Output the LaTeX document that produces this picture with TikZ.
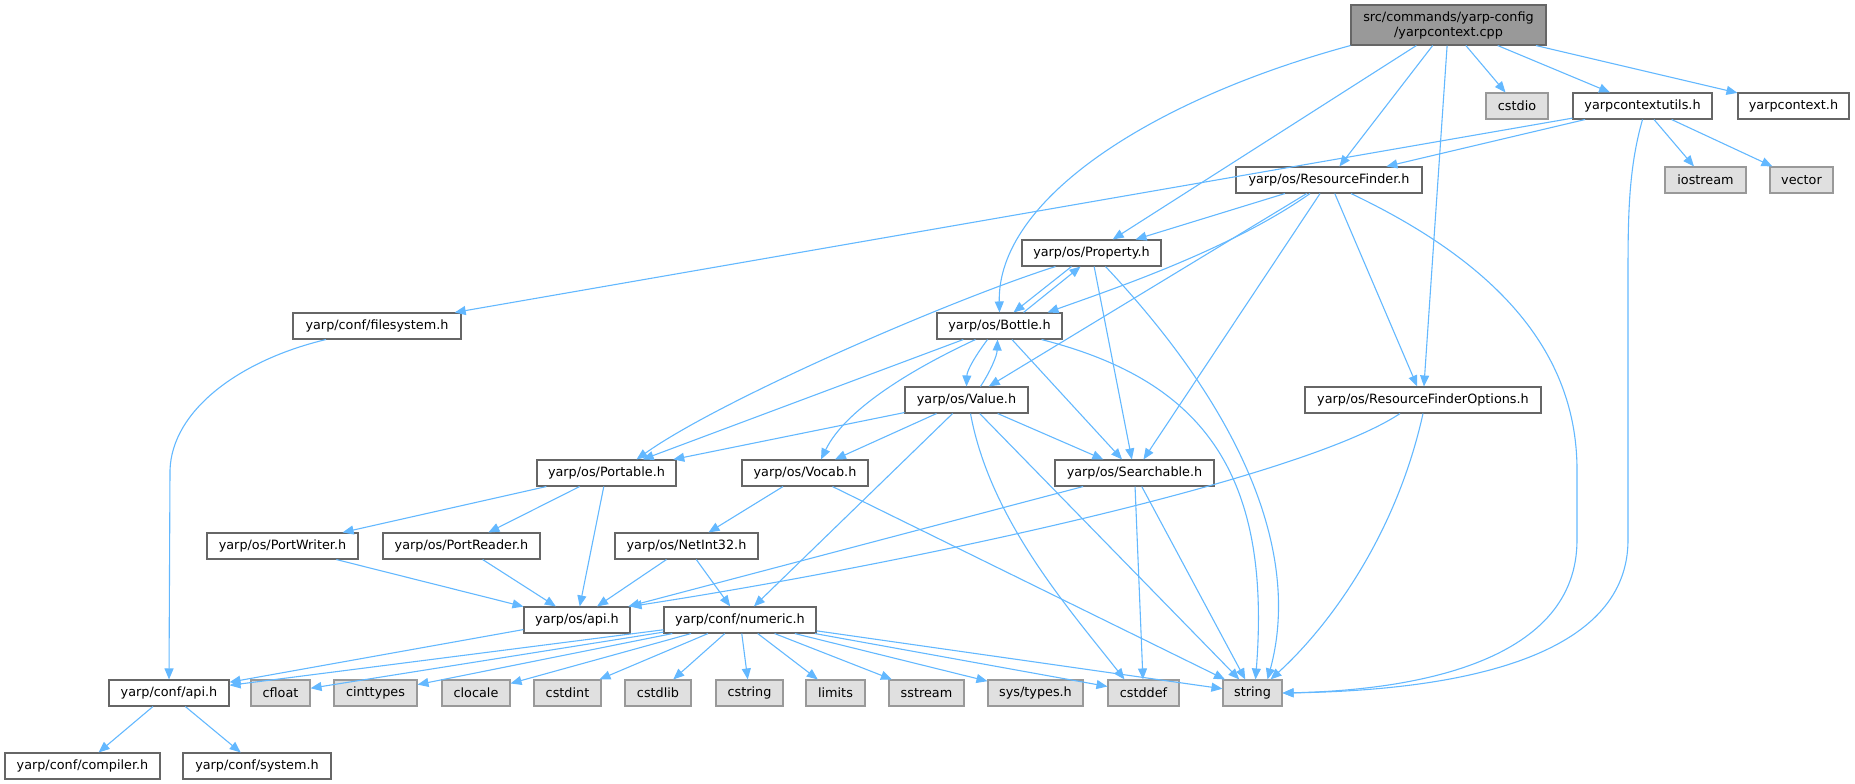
\documentclass[tikz,border=0pt]{standalone}
\usepackage{fontspec}
\setmainfont{DejaVu Sans}
\usetikzlibrary{arrows.meta}
\definecolor{bordo}{HTML}{666666}
\definecolor{grigio}{HTML}{999999}
\definecolor{esterno}{HTML}{E0E0E0}
\definecolor{freccia}{HTML}{63B8FF}
\begin{document}
\begin{tikzpicture}[x=1pt,y=-1pt,font=\fontsize{12.8}{15}\selectfont,
  file/.style={draw=bordo,fill=white,line width=1.1pt,minimum height=26pt,inner sep=0pt},
  ext/.style={file,draw=grigio,fill=esterno},
  radice/.style={file,fill=grigio,minimum height=40pt,align=center},
  dip/.style={draw=freccia,line width=1.1pt,-{Triangle[length=11pt,width=9pt]}}]
  \useasboundingbox (0,0) rectangle (1855,784);
  % file principale e primo livello
  \node[radice,minimum width=195] (cpp) at (1448.5,25) {src/commands/yarp-config\\/yarpcontext.cpp};
  \node[ext,minimum width=62] (cstdio) at (1517,106) {cstdio};
  \node[file,minimum width=139] (utils) at (1642.5,106) {yarpcontextutils.h};
  \node[file,minimum width=111] (ctxh) at (1793.5,106) {yarpcontext.h};
  \node[file,minimum width=186] (rf) at (1329,180) {yarp/os/ResourceFinder.h};
  \node[ext,minimum width=81] (iostream) at (1705.5,180) {iostream};
  \node[ext,minimum width=63] (vector) at (1801.5,180) {vector};
  % livelli intermedi
  \node[file,minimum width=139] (prop) at (1091.5,253) {yarp/os/Property.h};
  \node[file,minimum width=168] (fs) at (377,326) {yarp/conf/filesystem.h};
  \node[file,minimum width=125] (bottle) at (999.5,326) {yarp/os/Bottle.h};
  \node[file,minimum width=123] (value) at (966.5,400) {yarp/os/Value.h};
  \node[file,minimum width=236] (rfo) at (1423,400) {yarp/os/ResourceFinderOptions.h};
  \node[file,minimum width=139] (portable) at (606.5,473) {yarp/os/Portable.h};
  \node[file,minimum width=126] (vocab) at (805,473) {yarp/os/Vocab.h};
  \node[file,minimum width=159] (search) at (1134.5,473) {yarp/os/Searchable.h};
  \node[file,minimum width=151] (pwriter) at (282.5,546) {yarp/os/PortWriter.h};
  \node[file,minimum width=157] (preader) at (461.5,546) {yarp/os/PortReader.h};
  \node[file,minimum width=143] (netint) at (686.5,546) {yarp/os/NetInt32.h};
  \node[file,minimum width=106] (osapi) at (577,620) {yarp/os/api.h};
  \node[file,minimum width=152] (numeric) at (740,620) {yarp/conf/numeric.h};
  % ultima riga: intestazioni di sistema
  \node[file,minimum width=120] (confapi) at (169,693) {yarp/conf/api.h};
  \node[ext,minimum width=59] (cfloat) at (280.5,693) {cfloat};
  \node[ext,minimum width=83] (cinttypes) at (375.5,693) {cinttypes};
  \node[ext,minimum width=68] (clocale) at (476,693) {clocale};
  \node[ext,minimum width=67] (cstdint) at (567.5,693) {cstdint};
  \node[ext,minimum width=66] (cstdlib) at (658,693) {cstdlib};
  \node[ext,minimum width=67] (cstring) at (749.5,693) {cstring};
  \node[ext,minimum width=59] (limits) at (835.5,693) {limits};
  \node[ext,minimum width=75] (sstream) at (926.5,693) {sstream};
  \node[ext,minimum width=95] (systypes) at (1035.5,693) {sys/types.h};
  \node[ext,minimum width=71] (cstddef) at (1143.5,693) {cstddef};
  \node[ext,minimum width=59] (string) at (1252.5,693) {string};
  \node[file,minimum width=155] (compiler) at (82.5,766) {yarp/conf/compiler.h};
  \node[file,minimum width=148] (system) at (257,766) {yarp/conf/system.h};

  \draw[dip] (cpp.south west) .. controls (1150,100) and (997,200) .. (bottle.north);% dal file principale
  \draw[dip] (cpp) -- (prop);
  \draw[dip] (cpp) -- (rf);
  \draw[dip] (cpp) -- (rfo);
  \draw[dip] (cpp) -- (cstdio);
  \draw[dip] (cpp) -- (utils);
  \draw[dip] (cpp) -- (ctxh);
  \draw[dip] (utils) -- (fs);% da yarpcontextutils.h
  \draw[dip] (utils) -- (rf);
  \draw[dip] (utils) -- (iostream);
  \draw[dip] (utils) -- (vector);
  \draw[dip] (utils.south) .. controls (1628,170) and (1628,220) .. (1628,280) -- (1628,540) .. controls (1628,650) and (1480,690) .. (string.east);
  \draw[dip] (rf) -- (prop);% da ResourceFinder.h
  \draw[dip] ([xshift=-19]rf.south) .. controls (1230,250) and (1110,290) .. ([xshift=48]bottle.north);
  \draw[dip] (rf) -- (value);
  \draw[dip] (rf) -- (search);
  \draw[dip] (rf) -- (rfo);
  \draw[dip] ([xshift=22]rf.south) .. controls (1480,255) and (1577,340) .. (1577,470) -- (1577,540) .. controls (1577,660) and (1420,690) .. (string.east);
  \draw[dip] ([xshift=-20]prop.south) -- ([xshift=14]bottle.north);% da Property.h
  \draw[dip] ([xshift=-36]prop.south) .. controls (950,300) and (720,400) .. ([xshift=30]portable.north);
  \draw[dip] (prop) -- (search);
  \draw[dip] ([xshift=14]prop.south) .. controls (1250,420) and (1300,560) .. ([xshift=15]string.north);
  \draw[dip] ([xshift=24]bottle.north) -- ([xshift=-11]prop.south);% da Bottle.h
  \draw[dip] (bottle) -- (portable);
  \draw[dip] ([xshift=-24]bottle.south) .. controls (910,370) and (845,410) .. ([xshift=16]vocab.north);
  \draw[dip] ([xshift=-12]bottle.south) .. controls (976,355) and (967,370) .. (value.north);
  \draw[dip] (bottle) -- (search);
  \draw[dip] ([xshift=42]bottle.south) .. controls (1200,380) and (1272,470) .. ([xshift=3]string.north);
  \draw[dip] ([xshift=14]value.north) .. controls (990,372) and (997,356) .. ([xshift=-2]bottle.south);% da Value.h
  \draw[dip] (value) -- (portable);
  \draw[dip] (value) -- (vocab);
  \draw[dip] (value) -- (numeric);
  \draw[dip] ([xshift=4]value.south) .. controls (990,520) and (1070,610) .. ([xshift=-19]cstddef.north);
  \draw[dip] (value) -- (string);
  \draw[dip] (value) -- (search);
  \draw[dip] ([xshift=-23]rfo.south) .. controls (1300,480) and (900,565) .. (osapi.north east);% da ResourceFinderOptions.h
  \draw[dip] (rfo.south) .. controls (1395,540) and (1325,630) .. ([xshift=18]string.north);
  \draw[dip] (portable) -- (pwriter);% da Portable.h
  \draw[dip] (portable) -- (preader);
  \draw[dip] (portable) -- (osapi);
  \draw[dip] (vocab) -- (netint);
  \draw[dip] (vocab) -- (string);
  \draw[dip] (search) -- (osapi);
  \draw[dip] (search) -- (cstddef);
  \draw[dip] (search) -- (string);
  \draw[dip] (pwriter) -- (osapi);
  \draw[dip] (preader) -- (osapi);
  \draw[dip] (netint) -- (osapi);
  \draw[dip] (netint) -- (numeric);
  \draw[dip] (osapi) -- (confapi);
  \draw[dip] (numeric) -- (confapi);% da numeric.h
  \draw[dip] (numeric) -- (cfloat);
  \draw[dip] (numeric) -- (cinttypes);
  \draw[dip] (numeric) -- (clocale);
  \draw[dip] (numeric) -- (cstdint);
  \draw[dip] (numeric) -- (cstdlib);
  \draw[dip] (numeric) -- (cstring);
  \draw[dip] (numeric) -- (limits);
  \draw[dip] (numeric) -- (sstream);
  \draw[dip] (numeric) -- (systypes);
  \draw[dip] (numeric) -- (cstddef);
  \draw[dip] (numeric) -- (string);
  \draw[dip] ([xshift=-51]fs.south) .. controls (240,360) and (172,410) .. (170,470) -- (confapi.north);
  \draw[dip] (confapi) -- (compiler);
  \draw[dip] (confapi) -- (system);
\end{tikzpicture}
\end{document}
